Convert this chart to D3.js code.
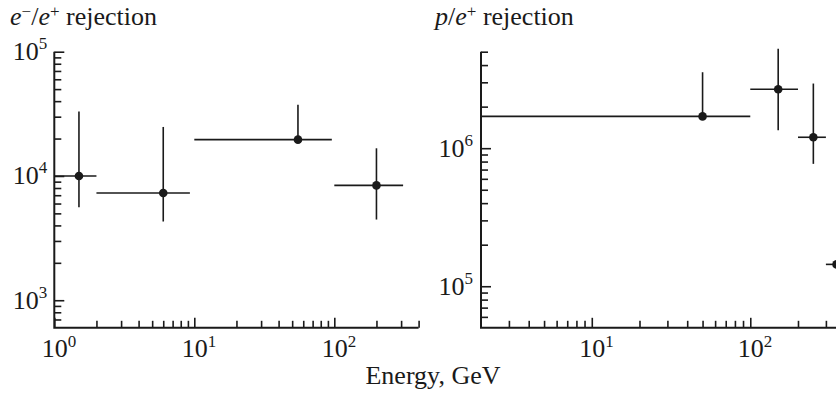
<!DOCTYPE html>
<html>
<head>
<meta charset="utf-8">
<script src="https://cdn.jsdelivr.net/npm/d3@7"></script>
<style>
  body { margin: 0; background: #fff; }
  svg { display: block; }
  text { font-family: 'Liberation Serif', 'Times New Roman', serif; fill: #1a1a1a; }
</style>
</head>
<body>
<svg id="chart" width="836" height="395"></svg>
<script>
// e-/e+ rejection (left panel)
const eEnergy = [1.5, 6, 55, 200];
const eEnergyLow = [1, 2, 10, 100];
const eEnergyHigh = [2, 9.3, 96, 310];
const eRejection = [10000, 7300, 19600, 8400];
const eRejLow = [5600, 4300, 19600, 4460];
const eRejHigh = [33000, 24800, 37500, 16700];

// p/e+ rejection (right panel)
const pEnergy = [50, 150, 250, 350];
const pEnergyLow = [2, 100, 200, 300];
const pEnergyHigh = [100, 200, 300, 400];
const pRejection = [1.70e6, 2.67e6, 1.2e6, 1.44e5];
const pRejLow = [1.70e6, 1.35e6, 7.7e5, 1.44e5];
const pRejHigh = [3.55e6, 5.25e6, 2.94e6, 1.44e5];

const ink = '#1a1a1a';
const labelSize = 26;
const expSize = 17;

const svg = d3.select('#chart');

function logTicks(lo, hi) {
  const out = [];
  for (let p = Math.floor(Math.log10(lo)); p <= Math.ceil(Math.log10(hi)); p++) {
    for (let m = 1; m < 10; m++) {
      const v = m * Math.pow(10, p);
      if (v >= lo * 0.999 && v <= hi * 1.001) out.push(v);
    }
  }
  return out;
}
const isMajor = (v) => Math.abs(Math.log10(v) - Math.round(Math.log10(v))) < 1e-9;

function drawPanel(cfg) {
  const x = d3.scaleLog(cfg.xDomain, cfg.xRange);
  const y = d3.scaleLog(cfg.yDomain, cfg.yRange);
  const xBase = cfg.yRange[0];
  const yBase = cfg.xRange[0];

  const g = svg.append('g');

  const xAll = logTicks(cfg.xDomain[0], cfg.xDomain[1]).filter((v) => v > cfg.xDomain[0] * 1.001);
  const yAll = logTicks(cfg.yDomain[0], cfg.yDomain[1]).filter((v) => v > cfg.yDomain[0] * 1.001);

  // minor ticks
  g.append('g')
    .attr('transform', `translate(0, ${xBase})`)
    .call(d3.axisBottom(x).tickValues(xAll.filter((v) => !isMajor(v))).tickSize(-7).tickSizeOuter(0).tickFormat(''))
    .call((s) => s.select('.domain').remove());
  g.append('g')
    .attr('transform', `translate(${yBase}, 0)`)
    .call(d3.axisLeft(y).tickValues(yAll.filter((v) => !isMajor(v))).tickSize(-7).tickSizeOuter(0).tickFormat(''))
    .call((s) => s.select('.domain').remove());

  // major ticks + labels
  const xMajor = g.append('g')
    .attr('transform', `translate(0, ${xBase})`)
    .call(d3.axisBottom(x).tickValues(cfg.xLabels).tickSize(-10).tickSizeOuter(0).tickFormat(''));
  xMajor.select('.domain').remove();
  xMajor.selectAll('.tick').each(function (d) {
    const t = d3.select(this).append('text')
      .attr('x', -13)
      .attr('y', 29)
      .attr('text-anchor', 'start')
      .style('font-size', labelSize + 'px')
      .text('10');
    t.append('tspan')
      .attr('dy', -10)
      .style('font-size', expSize + 'px')
      .text(Math.round(Math.log10(d)));
  });

  const yMajor = g.append('g')
    .attr('transform', `translate(${yBase}, 0)`)
    .call(d3.axisLeft(y).tickValues(cfg.yLabels).tickSize(-10).tickSizeOuter(0).tickFormat(''));
  yMajor.select('.domain').remove();
  yMajor.selectAll('.tick').each(function (d) {
    const t = d3.select(this).append('text')
      .attr('x', -cfg.yLabelGap)
      .attr('y', 8)
      .attr('text-anchor', 'end')
      .style('font-size', labelSize + 'px')
      .text('10');
    t.append('tspan')
      .attr('dy', -11)
      .style('font-size', expSize + 'px')
      .text(Math.round(Math.log10(d)));
  });

  g.selectAll('.tick line').attr('stroke', ink).attr('stroke-width', 1.6);

  // axis lines (L shape)
  g.append('path')
    .attr('d', `M${yBase},${cfg.yRange[1]}V${xBase}H${cfg.xRange[1]}`)
    .attr('fill', 'none')
    .attr('stroke', ink)
    .attr('stroke-width', 2);

  // error bars and points
  const pts = cfg.energy.map((e, i) => ({
    e, eLo: cfg.eLow[i], eHi: cfg.eHigh[i],
    r: cfg.rej[i], rLo: cfg.rLow[i], rHi: cfg.rHigh[i],
  }));

  g.selectAll('line.hbar')
    .data(pts)
    .join('line')
      .attr('class', 'hbar')
      .attr('x1', (d) => x(d.eLo))
      .attr('x2', (d) => x(d.eHi))
      .attr('y1', (d) => y(d.r))
      .attr('y2', (d) => y(d.r))
      .attr('stroke', ink)
      .attr('stroke-width', 1.6);

  g.selectAll('line.vbar')
    .data(pts.filter((d) => d.rHi > d.rLo))
    .join('line')
      .attr('class', 'vbar')
      .attr('x1', (d) => x(d.e))
      .attr('x2', (d) => x(d.e))
      .attr('y1', (d) => y(d.rLo))
      .attr('y2', (d) => y(d.rHi))
      .attr('stroke', ink)
      .attr('stroke-width', 1.6);

  g.selectAll('circle')
    .data(pts)
    .join('circle')
      .attr('cx', (d) => x(d.e))
      .attr('cy', (d) => y(d.r))
      .attr('r', 4.3)
      .attr('fill', ink);
}

drawPanel({
  xDomain: [1, 400], xRange: [54.3, 418.6],
  yDomain: [600, 1e5], yRange: [327.8, 51.7],
  xLabels: [1, 10, 100], yLabels: [1e3, 1e4, 1e5], yLabelGap: 7,
  energy: eEnergy, eLow: eEnergyLow, eHigh: eEnergyHigh,
  rej: eRejection, rLow: eRejLow, rHigh: eRejHigh,
});

drawPanel({
  xDomain: [2, 400], xRange: [481, 845.7],
  yDomain: [5e4, 5e6], yRange: [327.8, 51.7],
  xLabels: [10, 100], yLabels: [1e5, 1e6], yLabelGap: 8,
  energy: pEnergy, eLow: pEnergyLow, eHigh: pEnergyHigh,
  rej: pRejection, rLow: pRejLow, rHigh: pRejHigh,
});

// panel titles
const t1 = svg.append('text').attr('x', 10).attr('y', 25).style('font-size', labelSize + 'px');
t1.append('tspan').style('font-style', 'italic').text('e');
t1.append('tspan').attr('dy', -8).style('font-size', expSize + 'px').text('\u2212');
t1.append('tspan').attr('dy', 8).text('/');
t1.append('tspan').style('font-style', 'italic').text('e');
t1.append('tspan').attr('dy', -8).style('font-size', expSize + 'px').text('+');
t1.append('tspan').attr('dy', 8).text(' rejection');

const t2 = svg.append('text').attr('x', 435).attr('y', 25).style('font-size', labelSize + 'px');
t2.append('tspan').style('font-style', 'italic').text('p');
t2.append('tspan').text('/');
t2.append('tspan').style('font-style', 'italic').text('e');
t2.append('tspan').attr('dy', -8).style('font-size', expSize + 'px').text('+');
t2.append('tspan').attr('dy', 8).text(' rejection');

svg.append('text')
  .attr('x', 433)
  .attr('y', 384)
  .attr('text-anchor', 'middle')
  .style('font-size', labelSize + 'px')
  .text('Energy, GeV');
</script>
</body>
</html>
